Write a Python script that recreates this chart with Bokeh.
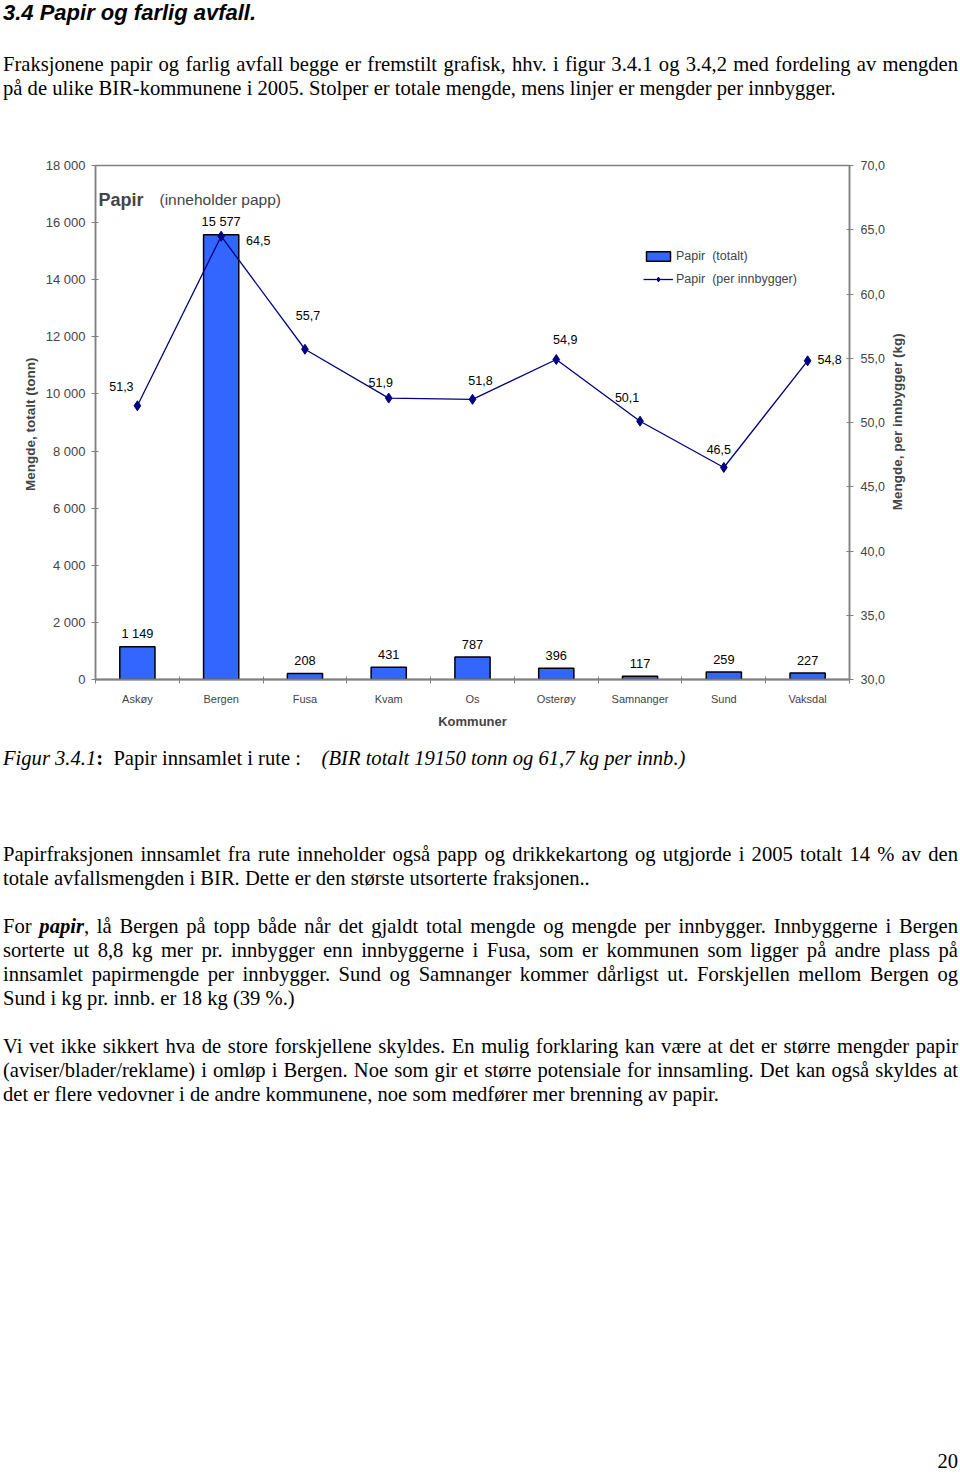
import math
from bokeh.plotting import figure
from bokeh.models import (Range1d, LinearAxis, FixedTicker, ColumnDataSource,
                          Legend, LegendItem, Label, Div)
from bokeh.layouts import column, row
from bokeh.embed import file_html
from bokeh.resources import INLINE
from bokeh.core.properties import value

# ---------------- data ----------------
kommuner = ["Askøy", "Bergen", "Fusa", "Kvam", "Os", "Osterøy", "Samnanger", "Sund", "Vaksdal"]
totalt_tonn = [1149, 15577, 208, 431, 787, 396, 117, 259, 227]
per_innbygger_kg = [51.3, 64.5, 55.7, 51.9, 51.8, 54.9, 50.1, 46.5, 54.8]

left_ticks = [0, 2000, 4000, 6000, 8000, 10000, 12000, 14000, 16000, 18000]
left_tick_labels = ["0", "2 000", "4 000", "6 000", "8 000", "10 000", "12 000", "14 000", "16 000", "18 000"]
right_ticks = [30, 35, 40, 45, 50, 55, 60, 65, 70]
right_tick_labels = ["30,0", "35,0", "40,0", "45,0", "50,0", "55,0", "60,0", "65,0", "70,0"]

# label placement (style only): screen-pixel offsets of the per-capita value labels
line_label_dx = [-16, 37, 3, -8, 8, 9, -13, -5, 22]
line_label_dy = [-19, 4, -34, -16, -19, -20, -24, -18, -1]

FONT = "Liberation Sans"

xs = list(range(1, len(kommuner) + 1))
bar_text = [f"{v:,}".replace(",", " ") for v in totalt_tonn]
line_text = [f"{v:.1f}".replace(".", ",") for v in per_innbygger_kg]

src = ColumnDataSource(dict(x=xs, tonn=totalt_tonn, kg=per_innbygger_kg,
                            bar_text=bar_text, line_text=line_text,
                            dx=line_label_dx, dy=line_label_dy))

# ---------------- chart ----------------
CH = 615
p = figure(width=888, height=CH,
           x_range=Range1d(0.5, len(kommuner) + 0.5), y_range=Range1d(0, 18000),
           output_backend="svg", toolbar_location=None,
           min_border_left=95, min_border_right=39, min_border_top=45, min_border_bottom=56)
p.extra_y_ranges = {"kg": Range1d(30, 70)}
p.grid.visible = False
p.outline_line_color = "#808080"
p.outline_line_width = 1.5
p.background_fill_color = "white"
p.border_fill_color = "white"

GREY = "#808080"

xa = p.xaxis[0]
xa.ticker = FixedTicker(ticks=xs, minor_ticks=[x - 0.5 for x in xs] + [xs[-1] + 0.5])
xa.major_label_overrides = {x: k for x, k in zip(xs, kommuner)}
xa.major_tick_in = 0
xa.major_tick_out = 0
xa.minor_tick_in = 3
xa.minor_tick_out = 4
xa.minor_tick_line_color = GREY
xa.axis_line_color = GREY
xa.axis_line_width = 2
xa.major_label_text_font = FONT
xa.major_label_text_font_size = "11px"
xa.major_label_standoff = 9
xa.axis_label = "Kommuner"
xa.axis_label_text_font = FONT
xa.axis_label_text_font_style = "bold"
xa.axis_label_text_font_size = "13px"
xa.axis_label_standoff = 6

ya = p.yaxis[0]
ya.ticker = FixedTicker(ticks=left_ticks)
ya.major_label_overrides = {t: l for t, l in zip(left_ticks, left_tick_labels)}
ya.minor_tick_line_color = None
ya.major_tick_in = 3
ya.major_tick_out = 4
ya.major_tick_line_color = GREY
ya.axis_line_color = GREY
ya.axis_line_width = 1.5
ya.major_label_text_font = FONT
ya.major_label_text_font_size = "13px"
ya.major_label_standoff = 6
ya.axis_label = "Mengde, totalt  (tonn)"
ya.axis_label_text_font = FONT
ya.axis_label_text_font_style = "bold"
ya.axis_label_text_font_size = "13.5px"
ya.axis_label_standoff = 5

ra = LinearAxis(y_range_name="kg", ticker=FixedTicker(ticks=right_ticks))
ra.major_label_overrides = {t: l for t, l in zip(right_ticks, right_tick_labels)}
ra.minor_tick_line_color = None
ra.major_tick_in = 3
ra.major_tick_out = 4
ra.major_tick_line_color = GREY
ra.axis_line_color = GREY
ra.axis_line_width = 1.5
ra.major_label_text_font = FONT
ra.major_label_text_font_size = "12.5px"
ra.major_label_standoff = 7
p.add_layout(ra, "right")

bars = p.vbar(x="x", top="tonn", width=0.42, source=src,
              fill_color="#3366FF", line_color="black", line_width=1.5)
ln = p.line(x="x", y="kg", source=src, y_range_name="kg", line_color="#000080", line_width=1.3)
mk = p.scatter(x="x", y="kg", source=src, y_range_name="kg", marker="diamond",
               size=10, fill_color="#000080", line_color="#000080")

p.text(x="x", y="tonn", text="bar_text", source=src, text_align="center",
       text_baseline="middle", y_offset=-13, text_font=value(FONT),
       text_font_size="12.8px", text_color="black")
p.text(x="x", y="kg", text="line_text", source=src, y_range_name="kg",
       x_offset="dx", y_offset="dy", text_align="center", text_baseline="middle",
       text_font=value(FONT), text_font_size="12.5px", text_color="black")

p.add_layout(Label(x=3, y=480, x_units="screen", y_units="screen", text="Papir",
                   text_font=FONT, text_font_style="bold", text_font_size="18px",
                   text_baseline="middle"))
p.add_layout(Label(x=64, y=480, x_units="screen", y_units="screen", text="(inneholder papp)",
                   text_font=FONT, text_font_size="15.5px", text_baseline="middle"))

legend = Legend(items=[LegendItem(label="Papir\u00a0 (totalt)", renderers=[bars]),
                       LegendItem(label="Papir\u00a0 (per innbygger)", renderers=[ln, mk])],
                location=(548, 390), border_line_color=None, background_fill_alpha=0,
                padding=0, margin=0, spacing=3, glyph_width=30, glyph_height=12,
                label_height=20, label_standoff=3, label_text_font=FONT,
                label_text_font_size="12.5px")
p.add_layout(legend)

# right-axis title (reads bottom-to-top), in a narrow companion panel
q = figure(width=70, height=CH, x_range=Range1d(0, 70), y_range=Range1d(0, CH),
           output_backend="svg", toolbar_location=None,
           min_border=0, min_border_left=0, min_border_right=0,
           min_border_top=0, min_border_bottom=0)
q.axis.visible = False
q.grid.visible = False
q.outline_line_color = None
q.background_fill_color = "white"
q.border_fill_color = "white"
q.add_layout(Label(x=9, y=CH - 302, text="Mengde, per innbygger   (kg)", angle=math.pi / 2,
                   text_align="center", text_baseline="middle", text_font=FONT,
                   text_font_style="bold", text_font_size="13.5px"))

# ---------------- page text ----------------
SERIF = "'Liberation Serif', serif"
FS = "20.6px"
head_html = f"""
<div style="position:relative;margin-left:3px;width:955px;height:120px;font-family:{SERIF};color:#000;">
<div style="position:absolute;top:2px;left:0;font-family:'Liberation Sans',sans-serif;font-weight:bold;font-style:italic;font-size:22px;line-height:22px;white-space:nowrap;">3.4 Papir og farlig avfall.</div>
<div style="position:absolute;top:52px;left:0;width:955px;font-size:{FS};line-height:24px;text-align:justify;">Fraksjonene papir og farlig avfall begge er fremstilt grafisk, hhv. i figur 3.4.1 og 3.4,2 med fordeling av mengden på de ulike BIR-kommunene i 2005. Stolper er totale mengde, mens linjer er mengder per innbygger.</div>
</div>"""

P = f"position:absolute;left:0;width:955px;font-size:{FS};line-height:24px;text-align:justify;"
foot_html = f"""
<div style="position:relative;margin-left:3px;width:955px;height:735px;font-family:{SERIF};color:#000;">
<div style="{P}top:11px;white-space:nowrap;"><i>Figur 3.4.1</i><b>:</b>&nbsp; Papir innsamlet i rute :&nbsp;&nbsp;&nbsp; <i>(BIR totalt 19150 tonn og 61,7 kg per innb.)</i></div>
<div style="{P}top:107px;">Papirfraksjonen innsamlet fra rute inneholder også papp og drikkekartong og utgjorde i 2005 totalt 14 % av den totale avfallsmengden i BIR. Dette er den største utsorterte fraksjonen..</div>
<div style="{P}top:179px;">For <b><i>papir</i></b>, lå Bergen på topp både når det gjaldt total mengde og mengde per innbygger. Innbyggerne i Bergen sorterte ut 8,8 kg mer pr. innbygger enn innbyggerne i Fusa, som er kommunen som ligger på andre plass på innsamlet papirmengde per innbygger. Sund og Samnanger kommer dårligst ut. Forskjellen mellom Bergen og Sund i kg pr. innb. er 18 kg (39 %.)</div>
<div style="{P}top:299px;">Vi vet ikke sikkert hva de store forskjellene skyldes. En mulig forklaring kan være at det er større mengder papir (aviser/blader/reklame) i omløp i Bergen. Noe som gir et større potensiale for innsamling. Det kan også skyldes at det er flere vedovner i de andre kommunene, noe som medfører mer brenning av papir.</div>
<div style="position:absolute;right:0;top:716px;font-size:{FS};line-height:20px;">20</div>
</div>"""

head = Div(text=head_html, width=958, height=120, margin=0)
foot = Div(text=foot_html, width=958, height=735, margin=0)

layout = column(head, row(p, q, spacing=0), foot, spacing=0)
open("out.html", "w").write(file_html(layout, INLINE))
